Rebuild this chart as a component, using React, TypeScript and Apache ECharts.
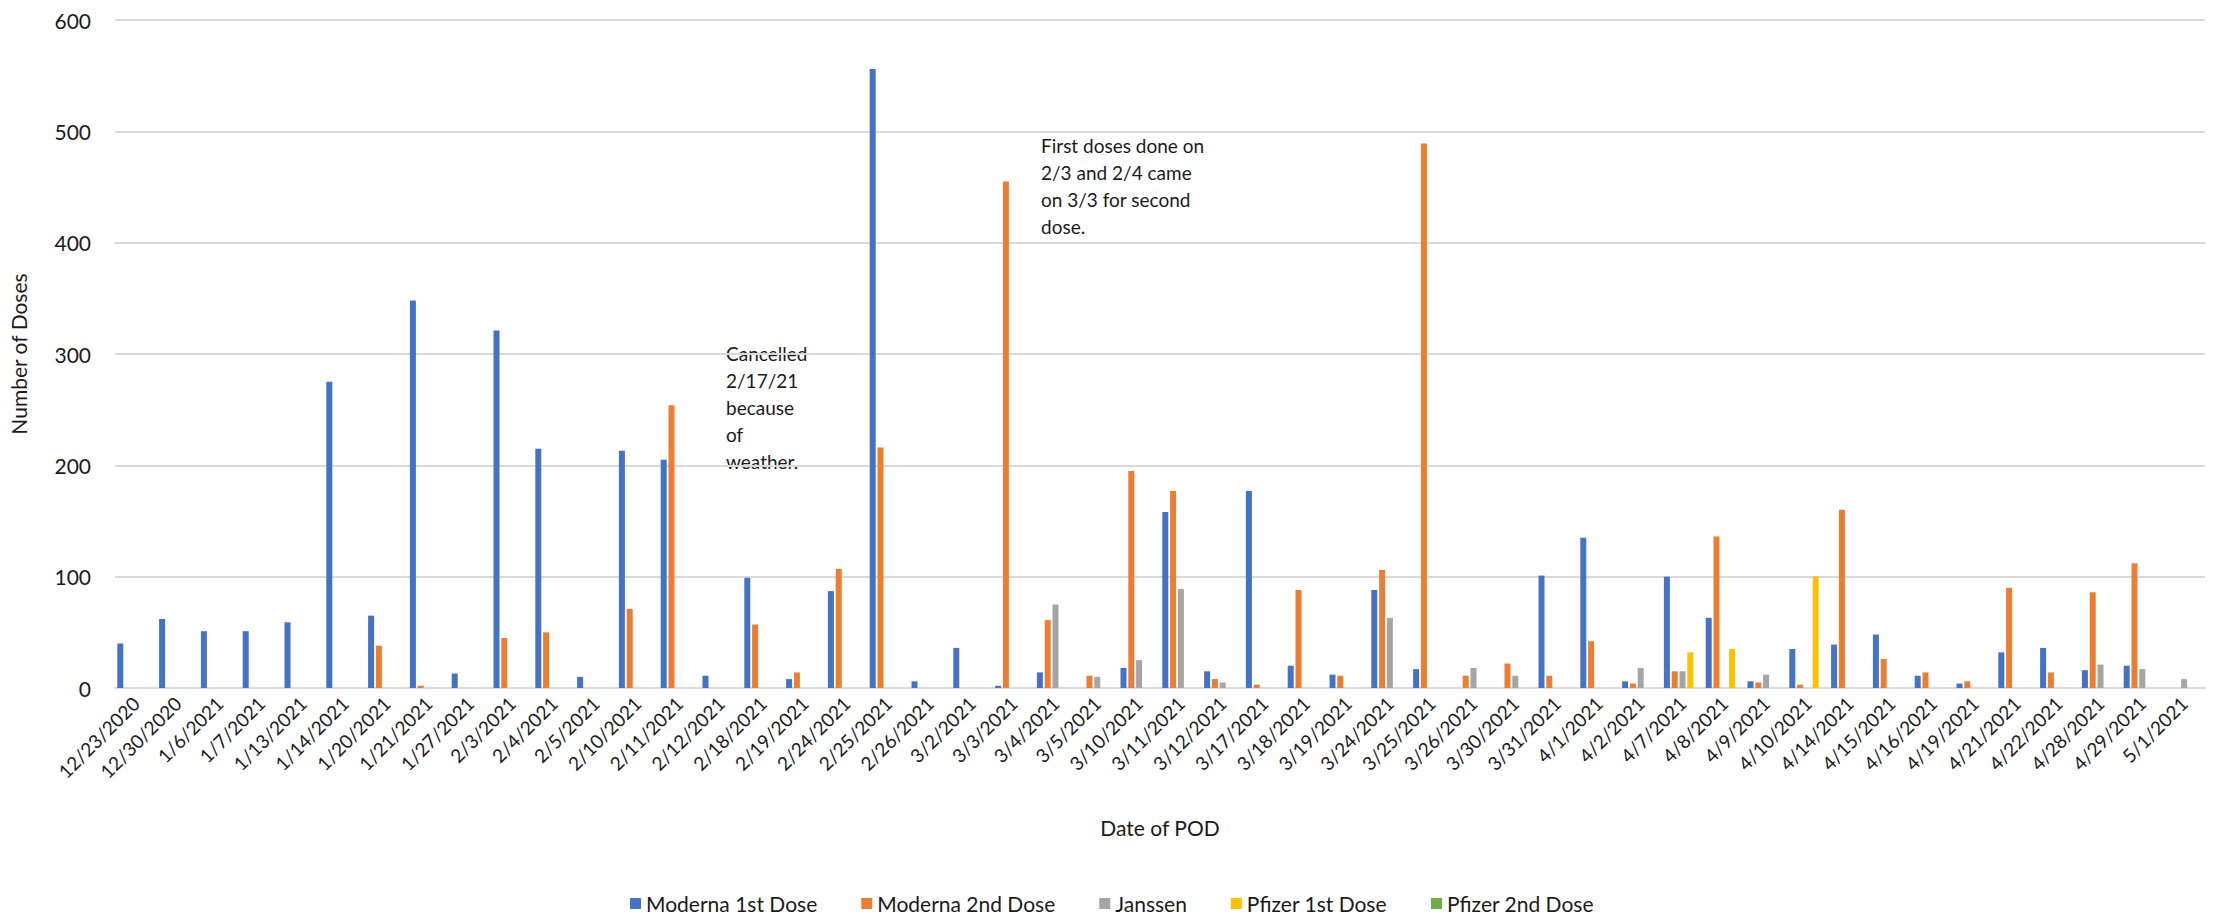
import React, { useEffect, useRef } from "react";
import * as echarts from "echarts";

const categories = [
  "12/23/2020", "12/30/2020", "1/6/2021", "1/7/2021", "1/13/2021", "1/14/2021", "1/20/2021", "1/21/2021",
  "1/27/2021", "2/3/2021", "2/4/2021", "2/5/2021", "2/10/2021", "2/11/2021", "2/12/2021", "2/18/2021",
  "2/19/2021", "2/24/2021", "2/25/2021", "2/26/2021", "3/2/2021", "3/3/2021", "3/4/2021", "3/5/2021",
  "3/10/2021", "3/11/2021", "3/12/2021", "3/17/2021", "3/18/2021", "3/19/2021", "3/24/2021", "3/25/2021",
  "3/26/2021", "3/30/2021", "3/31/2021", "4/1/2021", "4/2/2021", "4/7/2021", "4/8/2021", "4/9/2021",
  "4/10/2021", "4/14/2021", "4/15/2021", "4/16/2021", "4/19/2021", "4/21/2021", "4/22/2021", "4/28/2021",
  "4/29/2021", "5/1/2021",
];

const moderna1st = [
  40, 62, 51, 51, 59, 275, 65, 348,
  13, 321, 215, 10, 213, 205, 11, 99,
  8, 87, 556, 6, 36, 2, 14, 0,
  18, 158, 15, 177, 20, 12, 88, 17,
  0, 0, 101, 135, 6, 100, 63, 6,
  35, 39, 48, 11, 4, 32, 36, 16,
  20, 0,
];

const moderna2nd = [
  0, 0, 0, 0, 0, 0, 38, 2,
  0, 45, 50, 0, 71, 254, 0, 57,
  14, 107, 216, 0, 0, 455, 61, 11,
  195, 177, 8, 3, 88, 11, 106, 489,
  11, 22, 11, 42, 4, 15, 136, 5,
  3, 160, 26, 14, 6, 90, 14, 86,
  112, 0,
];

const janssen = [
  0, 0, 0, 0, 0, 0, 0, 0,
  0, 0, 0, 0, 0, 0, 0, 0,
  0, 0, 0, 0, 0, 0, 75, 10,
  25, 89, 5, 0, 0, 0, 63, 0,
  18, 11, 0, 0, 18, 15, 0, 12,
  0, 0, 0, 0, 0, 0, 0, 21,
  17, 8,
];

const pfizer1st = [
  0, 0, 0, 0, 0, 0, 0, 0,
  0, 0, 0, 0, 0, 0, 0, 0,
  0, 0, 0, 0, 0, 0, 0, 0,
  0, 0, 0, 0, 0, 0, 0, 0,
  0, 0, 0, 0, 0, 32, 35, 0,
  100, 0, 0, 0, 0, 0, 0, 0,
  0, 0,
];

const pfizer2nd = categories.map(() => 0);

const seriesNames = ["Moderna 1st Dose", "Moderna 2nd Dose", "Janssen", "Pfizer 1st Dose", "Pfizer 2nd Dose"];
const seriesColors = ["#4472C4", "#ED7D31", "#A5A5A5", "#FFC000", "#70AD47"];
const seriesData = [moderna1st, moderna2nd, janssen, pfizer1st, pfizer2nd];

const annotation1 = "Cancelled\n2/17/21\nbecause\nof\nweather.";
const annotation2 = "First doses done on\n2/3 and 2/4 came\non 3/3 for second\ndose.";

const FONT = "Lato, 'Noto Sans', sans-serif";
const TEXT = "#1a1a1a";

export default function App() {
  const ref = useRef<HTMLDivElement>(null);

  useEffect(() => {
    if (!ref.current) return;
    const chart = echarts.init(ref.current, null, { renderer: "svg" });
    chart.setOption({
      animation: false,
      backgroundColor: "#ffffff",
      textStyle: { fontFamily: FONT },
      grid: { left: 113, right: 19, top: 20, bottom: 228, containLabel: false },
      legend: {
        top: 888,
        left: "center",
        itemWidth: 11,
        itemHeight: 11,
        itemGap: 44,
        icon: "rect",
        textStyle: { fontFamily: FONT, fontSize: 21, color: TEXT },
        data: seriesNames,
      },
      xAxis: {
        type: "category",
        data: categories,
        name: "Date of POD",
        nameLocation: "middle",
        nameGap: 129,
        nameTextStyle: { fontFamily: FONT, fontSize: 21, color: TEXT },
        axisLine: { lineStyle: { color: "#D9D9D9", width: 2 } },
        axisTick: { show: false },
        axisLabel: {
          rotate: 45,
          interval: 0,
          fontFamily: FONT,
          fontSize: 19,
          color: TEXT,
          margin: 12,
        },
      },
      yAxis: {
        type: "value",
        min: 0,
        max: 600,
        interval: 100,
        name: "Number of Doses",
        nameLocation: "middle",
        nameGap: 86,
        nameTextStyle: { fontFamily: FONT, fontSize: 21, color: TEXT },
        axisLine: { show: false },
        axisTick: { show: false },
        axisLabel: {
          fontFamily: FONT,
          fontSize: 21,
          color: TEXT,
          margin: 24,
        },
        splitLine: { lineStyle: { color: "#D9D9D9", width: 2 } },
      },
      series: seriesNames.map((name, i) => ({
        name,
        type: "bar",
        data: seriesData[i],
        barWidth: 6,
        barGap: "30%",
        itemStyle: { color: seriesColors[i] },
      })),
      graphic: [
        {
          type: "text",
          left: 726,
          top: 340,
          style: {
            text: annotation1,
            fontFamily: FONT,
            fontSize: 19,
            lineHeight: 27,
            fill: TEXT,
          },
        },
        {
          type: "text",
          left: 1041,
          top: 132,
          style: {
            text: annotation2,
            fontFamily: FONT,
            fontSize: 19,
            lineHeight: 27,
            fill: TEXT,
          },
        },
      ],
    });
    return () => chart.dispose();
  }, []);

  return (
    <div
      ref={ref}
      style={{ position: "fixed", left: 0, top: 0, width: 2224, height: 916, background: "#fff" }}
    />
  );
}
